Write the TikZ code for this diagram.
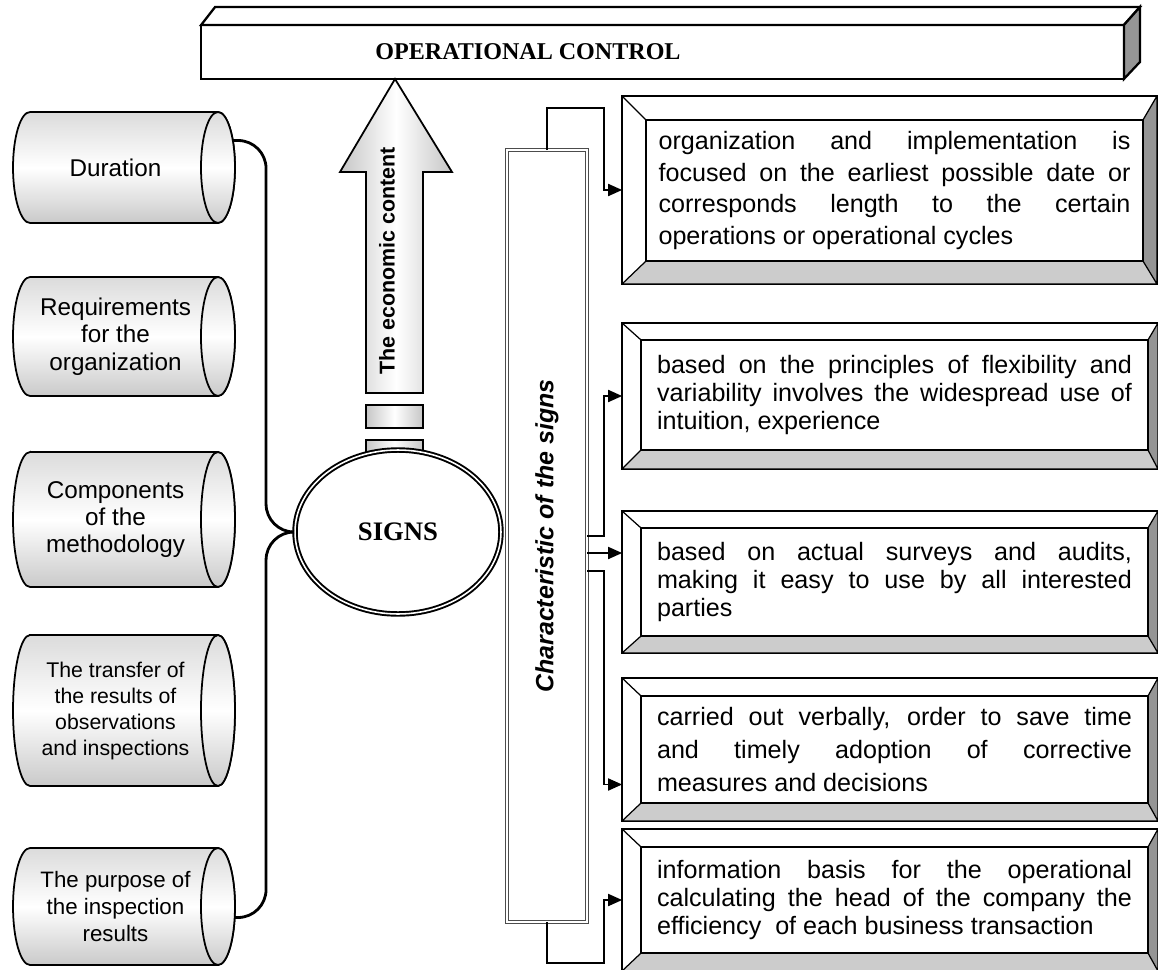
\documentclass[tikz,border=0pt]{standalone}
\usepackage{fontspec}
\setmainfont{Liberation Serif}
\setsansfont{Liberation Sans}
\usetikzlibrary{arrows.meta,calc,shapes.geometric,backgrounds}
\definecolor{FaceGray}{HTML}{CCCCCC}
\definecolor{SideGray}{HTML}{959595}
\tolerance=10000
\hbadness=10000
\hyphenpenalty=10000

% bevelled frame round an inner text box #1 (outer node #1o)
\newcommand{\bevelframe}[1]{%
  \fill[FaceGray] (#1o.south west) -- (#1.south west) -- (#1.south east) -- (#1o.south east) -- cycle;
  \fill[SideGray] (#1o.south east) -- (#1.south east) -- (#1.north east) -- (#1o.north east) -- cycle;
  \draw[line width=0.7pt] (#1o.north west) -- (#1.north west)
    (#1o.south west) -- (#1.south west)
    (#1o.south east) -- (#1.south east)
    (#1o.north east) -- (#1.north east)
    (#1o.south west) rectangle (#1o.north east);
  \draw[line width=1pt] (#1.south west) rectangle (#1.north east);
}
% lying cylinder behind text node #1, end ellipse centred on #1.east, y radius #2
\newcommand{\cylframe}[2]{%
  \begin{scope}[on background layer]
    \shade[cylbody] ($(#1.north west)+(17,0)$) -- (#1.north east)
      arc[start angle=90, end angle=-90, x radius=0.34cm, y radius=#2]
      -- ($(#1.south west)+(17,0)$)
      arc[start angle=270, end angle=90, x radius=0.34cm, y radius=#2] -- cycle;
    \filldraw[cylbody, fill=white] (#1.east) ellipse [x radius=0.34cm, y radius=#2];
  \end{scope}
}

\begin{document}
\begin{tikzpicture}[
  x=0.02cm, y=-0.02cm,
  font=\sffamily,
  cyltext/.style={
    outer sep=0pt,
    inner sep=0pt,
    minimum width=4.1cm,
    align=center,
    font=\sffamily\fontsize{13.8}{15.5}\selectfont
  },
  cylbody/.style={draw, line width=1pt, top color=gray!28, bottom color=gray!42, middle color=white},
  outerbox/.style={draw, line width=0.7pt, fill=white, outer sep=0pt, minimum width=10.72cm},
  textbox/.style={
    draw,
    line width=1pt,
    fill=white,
    outer sep=0pt,
    inner sep=0pt,
    minimum width=10.14cm,
    text width=9.5cm,
    align=justify,
    font=\sffamily\fontsize{14.3}{16}\selectfont
  },
  link/.style={line width=1.6pt, rounded corners=0.56cm},
  brk/.style={-{Triangle[length=8pt,width=7pt]}, line width=0.7pt},
  shadedblock/.style={draw, line width=1pt, left color=gray!45, right color=gray!45, middle color=white}
]
\useasboundingbox (0,0) rectangle (1158,969);

% banner
\node[draw, line width=1.3pt, fill=white, outer sep=0pt,
  minimum width=18.46cm, minimum height=1.08cm] (opctl) at (662.5,52) {};
\draw[line width=1.3pt, fill=white] (opctl.north west) -- ++(14,-18)
  -- ($(opctl.north east)+(16,-18)$) -- (opctl.north east) -- cycle;
\draw[line width=1.3pt, fill=SideGray] (opctl.north east) -- ++(16,-18)
  -- ++(0,55) -- (opctl.south east) -- cycle;
\node[font=\rmfamily\bfseries\fontsize{13.7}{16}\selectfont] (opctltxt) at (528,52) {OPERATIONAL CONTROL};

% block arrow up to the banner
\shade[shadedblock] (395,79) -- (452,172) -- (423,172) -- (423,393)
  -- (366,393) -- (366,172) -- (340,172) -- cycle;
\node[rotate=90, font=\sffamily\bfseries\fontsize{12.2}{14}\selectfont] (econ) at (387,261) {The economic content};
\shade[shadedblock] (366,405) rectangle (423,428);
\shade[shadedblock] (366,440) rectangle (423,460);

% centre
\node[ellipse, draw, fill=white, line width=1.1pt, double, double distance=0.9pt,
  minimum width=4.12cm, minimum height=3.28cm,
  font=\rmfamily\bfseries\fontsize{15.2}{18}\selectfont] (signs) at (398,532) {SIGNS};

% left cylinders
\node[cyltext, minimum height=2.22cm] (dur) at (115.5,167.5) {Duration};
\cylframe{dur}{1.11cm}
\node[cyltext, minimum height=2.38cm] (req) at (115.5,336.5) {Requirements\\for the\\organization};
\cylframe{req}{1.19cm}
\node[cyltext, minimum height=2.70cm] (comp) at (115.5,519.5) {Components\\of the\\methodology};
\cylframe{comp}{1.35cm}
\node[cyltext, minimum height=3.02cm,
  font=\sffamily\fontsize{12.1}{14.8}\selectfont] (trans) at (115.5,710.5)
  {The transfer of\\the results of\\observations\\and inspections};
\cylframe{trans}{1.51cm}
\node[cyltext, minimum height=2.34cm,
  font=\sffamily\fontsize{12.7}{15.2}\selectfont] (purp) at (115.5,906.5)
  {The purpose of\\the inspection\\results};
\cylframe{purp}{1.17cm}

\draw[link] ($(dur.east)+(15,-27)$) -| ($(signs.west)+(-28,0)$) -- (signs.west);
\draw[link] ($(purp.east)+(17,11)$) -| ($(signs.west)+(-28,0)$) -- (signs.west);

% vertical bar
\node[draw=black!70, double, double distance=1.2pt, line width=0.7pt, fill=white,
  outer sep=0pt, minimum width=1.6cm, minimum height=15.44cm] (charbar) at (547,536)
  {\rotatebox{90}{\bfseries\itshape\fontsize{14.2}{16}\selectfont Characteristic of the signs}};

% right boxes
\node[outerbox, minimum width=10.7cm, minimum height=3.76cm] (b1o) at (889.5,190) {};
\node[textbox, minimum width=9.94cm, minimum height=2.82cm, text width=9.44cm,
  font=\sffamily\fontsize{14.3}{18.2}\selectfont] (b1) at (894.5,190.5)
  {organization and implementation is\linebreak focused on the earliest possible date or\linebreak corresponds length to the certain\linebreak operations or operational cycles};
\bevelframe{b1}

\node[outerbox, minimum height=2.92cm] (b2o) at (890,396) {};
\node[textbox, minimum height=2.2cm] (b2) at (894.5,395)
  {based on the principles of flexibility and\linebreak variability involves the widespread use of\linebreak intuition, experience};
\bevelframe{b2}

\node[outerbox, minimum height=2.84cm] (b3o) at (890,582) {};
\node[textbox, minimum height=2.16cm] (b3) at (894.5,582)
  {based on actual surveys and audits,\linebreak making it easy to use by all interested\linebreak parties};
\bevelframe{b3}

\node[outerbox, minimum height=2.86cm] (b4o) at (890,749.5) {};
\node[textbox, minimum height=2.14cm,
  font=\sffamily\fontsize{14.3}{18.8}\selectfont] (b4) at (894.5,749.5)
  {carried out verbally, order to save time\linebreak and timely adoption of corrective\linebreak measures and decisions};
\bevelframe{b4}

\node[outerbox, minimum height=2.84cm] (b5o) at (890,900) {};
\node[textbox, minimum height=2.12cm] (b5) at (894.5,900)
  {information basis for the operational\linebreak calculating the head of the company the\linebreak efficiency\ \ of each business transaction};
\bevelframe{b5}

% bar to boxes
\coordinate (a3) at ($(b3o.west)+(0,-29)$);
\coordinate (a4) at ($(b4o.west)+(0,35)$);
\draw[brk] (charbar.north) -- ++(0,-42) -| ($(b1o.west)+(-18,0)$) -- (b1o.west);
\draw[brk] (charbar.east) -| ($(b2o.west)+(-18,0)$) -- (b2o.west);
\draw[brk] (charbar.east |- a3) -- (a3);
\draw[brk] ($(charbar.east)+(0,35)$) -| ($(a4)+(-18,0)$) -- (a4);
\draw[brk] (charbar.south) -- ++(0,41) -| ($(b5o.west)+(-18,0)$) -- (b5o.west);
\end{tikzpicture}
\end{document}
